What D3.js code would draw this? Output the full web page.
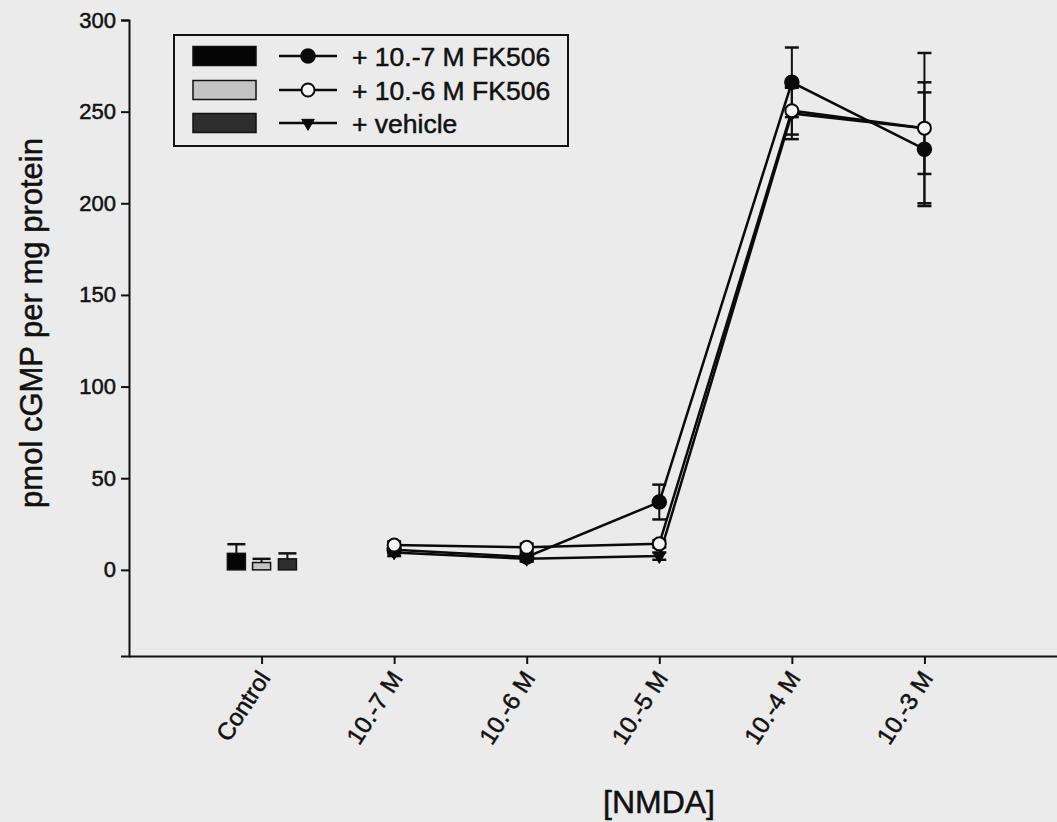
<!DOCTYPE html>
<html>
<head>
<meta charset="utf-8">
<script src="https://cdn.jsdelivr.net/npm/d3@7"></script>
<style>
  html, body { margin: 0; padding: 0; background: #ebebeb; }
  svg { display: block; }
  text { font-family: "Liberation Sans", Arial, sans-serif; fill: #111; stroke: #111; stroke-width: 0.5px; }
</style>
</head>
<body>
<svg id="chart" width="1057" height="822"></svg>
<script>
// Category labels along the x axis
const categories = ["Control", "10.-7 M", "10.-6 M", "10.-5 M", "10.-4 M", "10.-3 M"];
const yTicks = [0, 50, 100, 150, 200, 250, 300];

// Control bars (one per treatment)
const controlMeans = [9, 4, 6];
const controlErrs = [5, 2, 3];

// NMDA dose-response series (10.-7 M ... 10.-3 M)
const fk7Means = [11, 7, 37, 266, 229.5];
const fk7Errs = [2, 2, 9.5, 19, 31];
const fk6Means = [13.5, 12.3, 14.2, 250.5, 241];
const fk6Errs = [2, 2, 2, 13, 41];
const vehMeans = [9.5, 6, 7.5, 249, 241];
const vehErrs = [2, 1.5, 2, 14, 25];

const seriesNames = ["+ 10.-7 M FK506", "+ 10.-6 M FK506", "+ vehicle"];
const barFills = ["#050505", "#c4c4c4", "#2e2e2e"];

const svg = d3.select("#chart");
const W = 1057, H = 822;
const FONT = "Liberation Sans, Arial, sans-serif";

svg.append("rect").attr("width", W).attr("height", H).attr("fill", "#ebebeb");

const x = d3.scaleLinear().domain([-1, 6]).range([129, 1057]);
const y = d3.scaleLinear().domain([-47, 300]).range([656, 20]);

// Y axis
const yAxis = d3.axisLeft(y).tickValues(yTicks).tickSize(8).tickPadding(5);
const gy = svg.append("g").attr("transform", `translate(${x(-1)},0)`).call(yAxis);
gy.select(".domain").attr("stroke", "#111").attr("stroke-width", 2);
gy.selectAll(".tick line").attr("stroke", "#111").attr("stroke-width", 2);
gy.selectAll(".tick text").attr("font-size", 22).attr("fill", "#111")
  .attr("font-family", FONT);

// X axis
const xAxis = d3.axisBottom(x).tickValues(d3.range(categories.length))
  .tickFormat(i => categories[i]).tickSize(8).tickSizeOuter(0);
const gx = svg.append("g").attr("transform", `translate(0,${y(-47)})`).call(xAxis);
gx.select(".domain").attr("stroke", "#111").attr("stroke-width", 2);
gx.selectAll(".tick line").attr("stroke", "#111").attr("stroke-width", 2);
gx.selectAll(".tick text")
  .attr("font-size", 24).attr("fill", "#111")
  .attr("font-family", FONT)
  .attr("text-anchor", "end")
  .attr("dy", null).attr("y", 0)
  .attr("transform", "translate(9,22) rotate(-57)");

// Axis titles
svg.append("text")
  .attr("transform", `translate(42,323) rotate(-90)`)
  .attr("text-anchor", "middle").attr("font-size", 31)
  .text("pmol cGMP per mg protein");
svg.append("text")
  .attr("x", 659).attr("y", 813)
  .attr("text-anchor", "middle").attr("font-size", 32)
  .text("[NMDA]");

// Control bars with upward error caps
const barW = 18;
const barOffsets = [-0.19, 0, 0.195];
const bars = svg.append("g");
controlMeans.forEach((m, i) => {
  const cx = x(barOffsets[i]);
  bars.append("line")
    .attr("x1", cx).attr("x2", cx)
    .attr("y1", y(m)).attr("y2", y(m + controlErrs[i]))
    .attr("stroke", "#111").attr("stroke-width", 2);
  bars.append("line")
    .attr("x1", cx - 9).attr("x2", cx + 9)
    .attr("y1", y(m + controlErrs[i])).attr("y2", y(m + controlErrs[i]))
    .attr("stroke", "#111").attr("stroke-width", 2.5);
  bars.append("rect")
    .attr("x", cx - barW / 2).attr("width", barW)
    .attr("y", y(m)).attr("height", y(0) - y(m))
    .attr("fill", barFills[i]).attr("stroke", "#111").attr("stroke-width", 1.5);
});

// Line series
const series = [
  { name: seriesNames[0], means: fk7Means, errs: fk7Errs, marker: "filled" },
  { name: seriesNames[1], means: fk6Means, errs: fk6Errs, marker: "open" },
  { name: seriesNames[2], means: vehMeans, errs: vehErrs, marker: "tri" }
];

const line = d3.line().x((d, i) => x(i + 1)).y(d => y(d));

function drawMarker(g, type, cx, cy) {
  if (type === "filled") {
    g.append("circle").attr("cx", cx).attr("cy", cy).attr("r", 7)
      .attr("fill", "#0a0a0a").attr("stroke", "#0a0a0a").attr("stroke-width", 1.5);
  } else if (type === "open") {
    g.append("circle").attr("cx", cx).attr("cy", cy).attr("r", 6.5)
      .attr("fill", "#f4f4f4").attr("stroke", "#0a0a0a").attr("stroke-width", 2);
  } else {
    g.append("path")
      .attr("d", d3.symbol().type(d3.symbolTriangle).size(70)())
      .attr("transform", `translate(${cx},${cy}) rotate(180)`)
      .attr("fill", "#0a0a0a").attr("stroke", "#0a0a0a").attr("stroke-width", 1);
  }
}

const errG = svg.append("g");
const lineG = svg.append("g");
const markG = svg.append("g");

// error bars and connecting lines
[2, 1, 0].forEach(si => {
  const s = series[si];
  s.means.forEach((m, i) => {
    const cx = x(i + 1);
    const lo = y(m - s.errs[i]), hi = y(m + s.errs[i]);
    errG.append("line").attr("x1", cx).attr("x2", cx).attr("y1", lo).attr("y2", hi)
      .attr("stroke", "#111").attr("stroke-width", 2);
    [lo, hi].forEach(yy => errG.append("line")
      .attr("x1", cx - 7).attr("x2", cx + 7).attr("y1", yy).attr("y2", yy)
      .attr("stroke", "#111").attr("stroke-width", 2.5));
  });
  lineG.append("path").datum(s.means).attr("d", line)
    .attr("fill", "none").attr("stroke", "#0a0a0a").attr("stroke-width", 2.5);
});
// markers: triangle underneath, then filled, then open on top
[2, 0, 1].forEach(si => {
  const s = series[si];
  s.means.forEach((m, i) => drawMarker(markG, s.marker, x(i + 1), y(m)));
});

// Legend
const lg = svg.append("g");
lg.append("rect").attr("x", 174).attr("y", 35).attr("width", 394).attr("height", 111)
  .attr("fill", "#ebebeb").attr("stroke", "#111").attr("stroke-width", 2);
const rowY = [56, 90, 123];
series.forEach((s, i) => {
  lg.append("rect").attr("x", 193).attr("y", rowY[i] - 9.5).attr("width", 63).attr("height", 19)
    .attr("fill", barFills[i]).attr("stroke", "#111").attr("stroke-width", 1.5);
  lg.append("line").attr("x1", 279).attr("x2", 337).attr("y1", rowY[i]).attr("y2", rowY[i])
    .attr("stroke", "#0a0a0a").attr("stroke-width", 2.5);
  drawMarker(lg, s.marker, 308, rowY[i]);
  lg.append("text").attr("x", 352).attr("y", rowY[i] + 9.5).attr("font-size", 26.5).text(s.name);
});
</script>
</body>
</html>
